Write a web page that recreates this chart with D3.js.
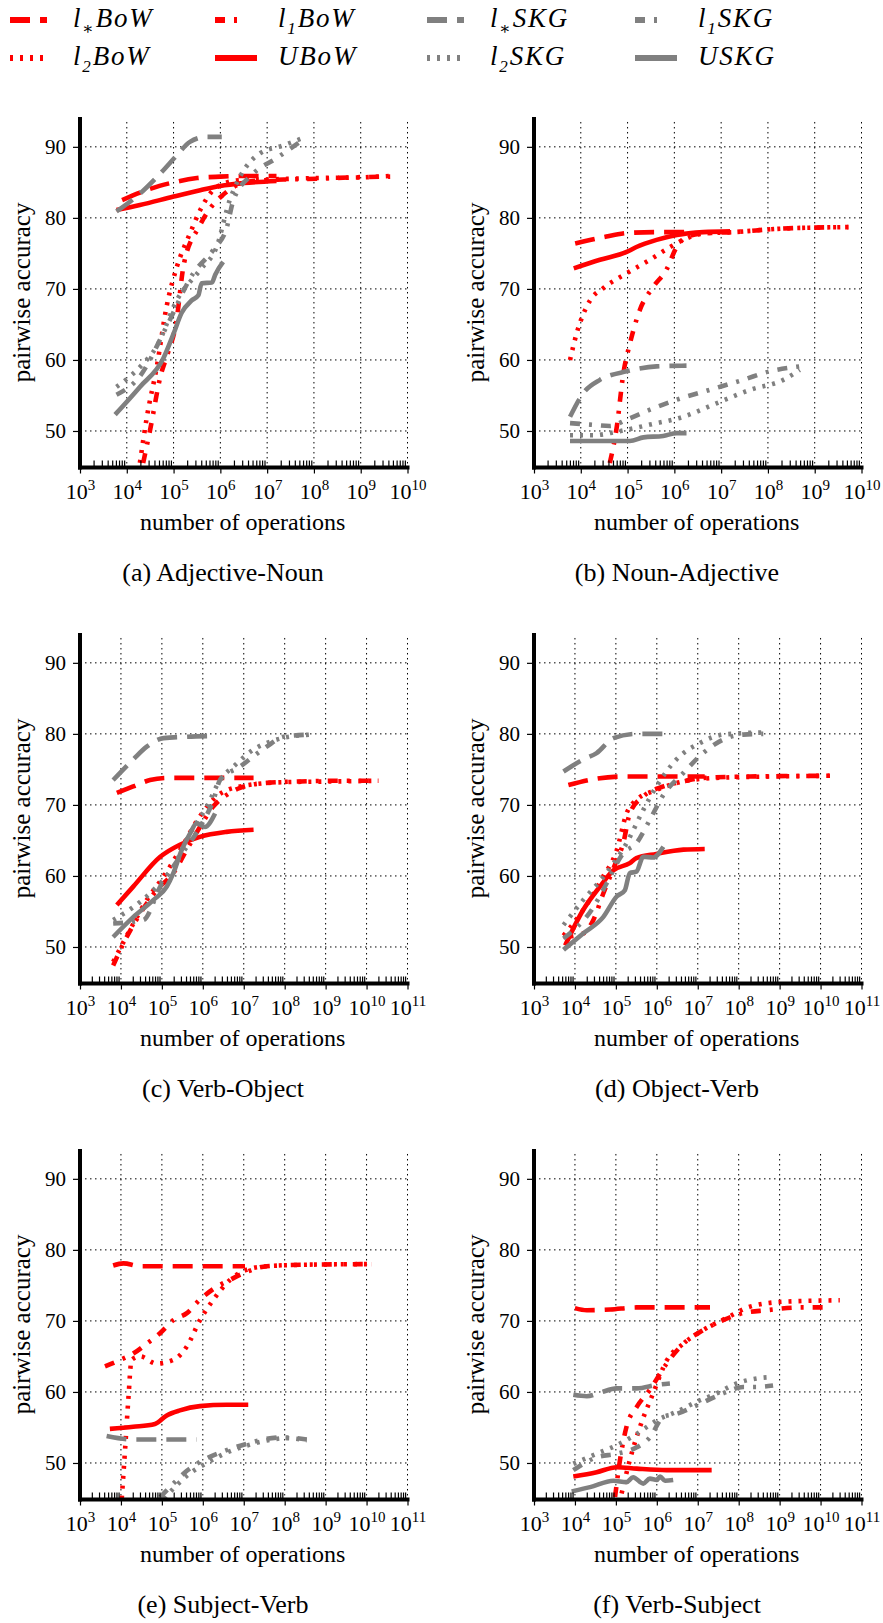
<!DOCTYPE html>
<html>
<head>
<meta charset="utf-8">
<script src="https://cdn.jsdelivr.net/npm/d3@7"></script>
<style>
  body { margin: 0; background: #fff; }
  svg text { font-family: "Liberation Serif", "DejaVu Serif", serif; fill: #000; }
</style>
</head>
<body>
<div id="chart"></div>
<script>
// x values are log10(number of operations), y values are pairwise accuracy

// (a) Adjective-Noun
var anLsBow = [[3.9,82.5],[4.3,83.6],[4.7,84.5],[5.0,85.0],[5.5,85.6],[6.0,85.8],[6.5,85.9],[7.2,85.9]];
var anL2Bow = [[4.28,45.5],[4.43,52],[4.64,59],[4.85,67.5],[5.07,73.1],[5.35,77.8],[5.57,81.1],[5.78,83.4],[6.06,84.8],[6.42,85.3],[7.0,85.4],[8.0,85.6],[9.0,85.7],[9.63,85.9]];
var anL1Bow = [[4.35,45.5],[4.5,50.2],[4.72,57.7],[4.88,61],[5.05,65],[5.22,73.5],[5.55,78.8],[5.8,81.5],[6.05,83.2],[6.3,84.4],[6.7,85.2],[7.35,85.4],[8.06,85.5],[8.77,85.7],[9.63,85.8]];
var anUBow  = [[3.78,81.1],[4.28,81.8],[5.0,83.0],[5.57,83.9],[6.0,84.5],[6.5,84.9],[7.2,85.2]];
var anLsSkg = [[3.78,80.9],[4.28,83.4],[4.71,86.2],[5.07,88.8],[5.35,90.7],[5.7,91.4],[6.03,91.4]];
var anL2Skg = [[3.78,56.2],[4.28,59],[4.64,61.9],[5.07,68.4],[5.57,72.7],[5.92,75.9],[6.2,82.5],[6.42,85.8],[6.85,89.1],[7.35,90.2],[7.74,91.2]];
var anL1Skg = [[3.78,55.1],[4.28,57.7],[4.85,64.7],[5.42,72.2],[5.85,75.5],[6.14,78.7],[6.28,82.5],[6.7,86.2],[7.2,88.4],[7.7,90.7]];
var anUSkg  = [[3.75,52.3],[4.28,56.2],[4.78,60.2],[5.0,63.7],[5.17,66.6],[5.39,68.4],[5.53,69.1],[5.6,70.8],[5.82,70.9],[5.89,72],[6.06,73.8]];

// (b) Noun-Adjective
var naLsBow = [[3.88,76.4],[4.49,77.3],[5.06,77.9],[5.7,78.0],[6.37,78.0]];
var naL2Bow = [[3.77,60],[3.91,63.7],[4.2,68.4],[4.48,70.1],[4.98,72.2],[5.48,74.1],[5.91,75.9],[6.19,76.9],[6.62,77.8],[7.26,78],[8.33,78.5],[9.72,78.7]];
var naL1Bow = [[4.62,45.5],[4.77,50.6],[4.91,58.1],[5.05,62.3],[5.26,67],[5.55,70.3],[5.83,72.7],[6.05,75.9],[6.26,77.3],[6.62,77.8],[7.26,78],[8.33,78.5],[9.72,78.7]];
var naUBow  = [[3.85,72.9],[4.41,74.1],[4.98,75.2],[5.19,75.9],[5.62,76.9],[6.05,77.6],[6.62,78.0],[7.19,78.1]];
var naLsSkg = [[3.77,52],[4.05,55.3],[4.41,57.2],[4.98,58.4],[5.62,59.1],[6.26,59.2]];
var naL2Skg = [[3.77,49.4],[4.27,49.4],[4.77,49.9],[5.48,50.9],[6.19,52],[6.9,53.9],[7.62,55.8],[8.33,57.2],[8.68,58.6]];
var naL1Skg = [[3.77,51.1],[4.2,50.9],[4.62,50.7],[4.98,51.6],[5.48,53],[6.05,54.4],[6.76,55.8],[7.47,57.2],[8.04,58.4],[8.68,59.1]];
var naUSkg  = [[3.77,48.6],[4.41,48.6],[5.05,48.6],[5.34,49.1],[5.76,49.3],[6.05,49.7],[6.26,49.7]];

// (c) Verb-Object
var voLsBow = [[3.9,71.7],[4.3,72.6],[4.71,73.5],[5.12,73.8],[5.93,73.8],[7.24,73.8]];
var voL2Bow = [[3.81,47.9],[4.22,52.4],[4.63,56.6],[5.04,59.9],[5.44,63.6],[5.93,68.4],[6.34,71.2],[6.91,72.6],[7.97,73.2],[9.19,73.3],[10.29,73.4]];
var voL1Bow = [[3.81,47.4],[4.14,51.4],[4.47,54.7],[4.87,58],[5.28,60.4],[5.6,63.6],[5.93,66.9],[6.26,69.8],[6.58,71.4],[6.91,72.4],[7.56,73.1],[8.38,73.3],[9.19,73.4],[10.29,73.4]];
var voUBow  = [[3.9,55.9],[4.3,58.5],[4.96,62.7],[5.44,64.4],[5.93,65.5],[6.58,66.2],[7.24,66.5]];
var voLsSkg = [[3.81,73.5],[4.3,76.4],[4.63,78.2],[5.04,79.4],[5.6,79.6],[6.26,79.7]];
var voL2Skg = [[3.81,53.8],[4.3,55.6],[4.79,58],[5.28,61.3],[5.69,66],[6.1,69.8],[6.42,73.5],[6.75,75.4],[7.24,77.8],[7.81,79.2],[8.62,79.9]];
var voL1Skg = [[3.81,53.3],[4.55,53.8],[4.96,58.5],[5.44,62.7],[5.93,66.9],[6.26,70.7],[6.42,73.5],[6.91,75.4],[7.56,78.2],[7.97,79.6],[8.62,79.9]];
var voUSkg  = [[3.81,51.4],[4.3,54.2],[4.79,56.6],[5.12,58.5],[5.28,60.4],[5.48,63.6],[5.69,66],[5.85,67.4],[6.05,66.9],[6.3,68.8]];

// (d) Object-Verb
var ovLsBow = [[3.84,72.8],[4.53,73.7],[5.18,74],[5.83,74],[7.17,74]];
var ovL2Bow = [[3.72,51.6],[4.2,55.2],[4.69,59.9],[5.02,63.6],[5.26,68.8],[5.5,70.7],[5.99,72.1],[6.65,73.3],[7.46,73.8],[8.8,74],[10.23,74.1]];
var ovL1Bow = [[3.72,51.4],[4.2,51.9],[4.45,53.8],[4.69,57.5],[5.02,62.2],[5.18,64.6],[5.34,68.8],[5.67,71.2],[6.16,72.6],[6.65,73.3],[7.13,73.8],[8.27,74],[10.23,74.1]];
var ovUBow  = [[3.76,50.2],[4.2,55.2],[4.61,58.5],[4.94,60.8],[5.34,61.8],[5.5,62.5],[5.99,63.1],[6.65,63.7],[7.17,63.8]];
var ovLsSkg = [[3.72,74.7],[4.2,76.4],[4.53,77.3],[4.94,79.4],[5.5,80],[6.16,80]];
var ovL2Skg = [[3.72,53.1],[4.2,56.6],[4.77,60.4],[5.26,64.6],[5.67,69.3],[5.99,72.6],[6.48,76.4],[7.05,78.7],[7.62,79.9],[8.6,80.2]];
var ovL1Skg = [[3.72,51.2],[4.45,55.6],[4.77,58.9],[5.18,63.2],[5.5,64.6],[5.83,67.9],[6.16,71.4],[6.65,74.5],[7.13,77.3],[7.7,79.4],[8.11,79.9],[8.6,80]];
var ovUSkg  = [[3.72,49.6],[4.2,51.9],[4.69,54.2],[5.02,57.1],[5.22,58],[5.34,60.4],[5.5,60.6],[5.67,62.7],[5.91,62.6],[6.16,64.1]];

// (e) Subject-Verb
var svLsBow = [[3.81,77.8],[4.06,78.1],[4.47,77.7],[5.12,77.7],[5.93,77.7],[7.03,77.7]];
var svL2Bow = [[4.02,45],[4.1,51.8],[4.18,58.9],[4.26,64.5],[4.47,65],[4.87,64],[5.28,64.5],[5.61,66.4],[5.93,70.1],[6.26,73],[6.67,75.8],[7.07,77.2],[7.56,77.7],[8.5,77.9],[10.13,78]];
var svL1Bow = [[3.61,63.6],[3.98,64.5],[4.3,65.4],[4.63,66.8],[4.96,68.3],[5.28,70.1],[5.61,71.1],[5.93,73],[6.34,74.8],[6.67,75.8],[6.99,76.7],[7.56,77.7],[8.38,77.9],[10.13,78]];
var svUBow  = [[3.73,54.8],[4.3,55.1],[4.83,55.5],[5.12,56.7],[5.44,57.4],[5.93,58],[6.58,58.2],[7.11,58.2]];
var svLsSkg = [[3.65,53.8],[4.3,53.3],[5.12,53.3],[5.85,53.3]];
var svL2Skg = [[5.05,45],[5.35,46.8],[5.7,48.6],[6.1,50],[6.6,51.5],[7.1,52.5],[7.6,53.2],[8.0,53.5],[8.54,53.2]];
var svL1Skg = [[4.96,45.2],[5.28,47.1],[5.61,48.9],[6.01,50.4],[6.58,51.8],[7.07,52.7],[7.56,53.4],[7.97,53.6],[8.54,53.3]];
var svUSkg  = [];

// (f) Verb-Subject
var vsLsBow = [[4.0,71.8],[4.29,71.5],[4.86,71.6],[5.51,71.9],[6.24,71.9],[7.3,71.9]];
var vsL2Bow = [[5.14,45.7],[5.34,50.4],[5.59,55.1],[5.91,59.8],[6.24,64.4],[6.65,66.8],[7.13,68.7],[7.7,70.4],[8.27,72],[9.09,72.7],[10.47,72.9]];
var vsL1Bow = [[4.98,45.2],[5.1,50.4],[5.26,55.1],[5.51,57.9],[5.83,60.3],[6.24,64],[6.65,66.8],[7.13,68.7],[7.62,70.1],[8.11,71.1],[8.68,71.5],[9.49,71.9],[10.23,71.9]];
var vsUBow  = [[3.96,48.1],[4.53,48.7],[5.02,49.4],[5.51,49.2],[6.24,49],[7.34,49]];
var vsLsSkg = [[3.96,59.6],[4.29,59.4],[4.61,59.9],[5.02,60.5],[5.51,60.5],[6.0,61],[6.32,61.2]];
var vsL2Skg = [[3.96,49.9],[4.53,51.3],[5.02,52.5],[5.51,54.1],[6.0,56],[6.48,57.2],[6.97,58.6],[7.46,59.8],[7.95,61.2],[8.44,61.9],[8.84,62.1]];
var vsL1Skg = [[3.96,49],[4.53,50.8],[5.02,51.3],[5.51,52.2],[5.83,53.6],[6.16,56.5],[6.48,56.9],[6.97,58.1],[7.62,59.8],[8.11,60.7],[8.44,60.7],[8.84,60.9]];
var vsUSkg  = [[3.92,46],[4.37,46.6],[4.94,47.5],[5.26,47.3],[5.42,48],[5.67,47.1],[5.83,47.8],[6.0,47.6],[6.08,48.1],[6.2,47.5],[6.4,47.6]];

var captions = ["(a) Adjective-Noun", "(b) Noun-Adjective", "(c) Verb-Object",
                "(d) Object-Verb", "(e) Subject-Verb", "(f) Verb-Subject"];
var maxExp = [10, 10, 11, 11, 11, 11];
var yTicks = [50, 60, 70, 80, 90];

// series styles, in legend (column) order
var series = [
  { name: "l", sub: "∗", tail: "BoW", color: "#ff0000", dash: "20,10" },
  { name: "l", sub: "2", tail: "BoW", color: "#ff0000", dash: "3,7" },
  { name: "l", sub: "1", tail: "BoW", color: "#ff0000", dash: "10,9,3,9" },
  { name: "U", sub: "",  tail: "BoW", color: "#ff0000", dash: null },
  { name: "l", sub: "∗", tail: "SKG", color: "#808080", dash: "20,10" },
  { name: "l", sub: "2", tail: "SKG", color: "#808080", dash: "3,7" },
  { name: "l", sub: "1", tail: "SKG", color: "#808080", dash: "10,9,3,9" },
  { name: "U", sub: "",  tail: "SKG", color: "#808080", dash: null }
];

var panelData = [
  [anLsBow, anL2Bow, anL1Bow, anUBow, anLsSkg, anL2Skg, anL1Skg, anUSkg],
  [naLsBow, naL2Bow, naL1Bow, naUBow, naLsSkg, naL2Skg, naL1Skg, naUSkg],
  [voLsBow, voL2Bow, voL1Bow, voUBow, voLsSkg, voL2Skg, voL1Skg, voUSkg],
  [ovLsBow, ovL2Bow, ovL1Bow, ovUBow, ovLsSkg, ovL2Skg, ovL1Skg, ovUSkg],
  [svLsBow, svL2Bow, svL1Bow, svUBow, svLsSkg, svL2Skg, svL1Skg, svUSkg],
  [vsLsBow, vsL2Bow, vsL1Bow, vsUBow, vsLsSkg, vsL2Skg, vsL1Skg, vsUSkg]
];

var FONT = "'Liberation Serif', 'DejaVu Serif', serif";
var W = 883, H = 1623;
var svg = d3.select("#chart").append("svg")
  .attr("width", W).attr("height", H)
  .attr("font-family", FONT);

// legend: 4 columns x 2 rows, filled column by column
var legX = [10, 215, 427, 635];
var legY = [20, 58];
series.forEach(function(s, i) {
  var col = Math.floor(i / 2), row = i % 2;
  var g = svg.append("g").attr("transform", "translate(" + legX[col] + "," + legY[row] + ")");
  var len = s.dash === null ? 42 : (s.dash === "10,9,3,9" ? 22 : 37);
  g.append("line")
    .attr("x1", 0).attr("x2", len).attr("y1", 0).attr("y2", 0)
    .attr("stroke", s.color).attr("stroke-width", 6)
    .attr("stroke-dasharray", s.dash);
  var t = g.append("text")
    .attr("x", 63).attr("y", 7)
    .attr("font-family", FONT)
    .attr("font-size", 27).attr("font-style", "italic")
    .attr("letter-spacing", 1.8);
  t.append("tspan").text(s.name);
  if (s.sub) {
    t.append("tspan").attr("dy", 7).attr("font-size", 17).text(s.sub);
    t.append("tspan").attr("dy", -7).text(s.tail);
  } else {
    t.append("tspan").text(s.tail);
  }
});

var pw = 327.5, ph = 349.5;
var lefts = [80, 534];
var tops = [117, 633, 1149];

panelData.forEach(function(data, p) {
  var col = p % 2, row = Math.floor(p / 2);
  var g = svg.append("g")
    .attr("transform", "translate(" + lefts[col] + "," + tops[row] + ")");

  var x = d3.scaleLog().domain([1e3, Math.pow(10, maxExp[p])]).range([0, pw]);
  var y = d3.scaleLinear().domain([45, 94.2]).range([ph, 0]);

  var majors = d3.range(3, maxExp[p] + 1).map(function(e) { return Math.pow(10, e); });
  var minors = [];
  d3.range(3, maxExp[p]).forEach(function(e) {
    for (var k = 2; k < 10; k++) minors.push(k * Math.pow(10, e));
  });

  // grid
  g.selectAll(".vgrid").data(majors.slice(1)).enter().append("line")
    .attr("x1", function(d) { return x(d); }).attr("x2", function(d) { return x(d); })
    .attr("y1", y(93.5)).attr("y2", ph)
    .attr("stroke", "#000").attr("stroke-width", 1).attr("stroke-dasharray", "1.5,3.5");
  g.selectAll(".hgrid").data(yTicks).enter().append("line")
    .attr("x1", 0).attr("x2", pw)
    .attr("y1", function(d) { return y(d); }).attr("y2", function(d) { return y(d); })
    .attr("stroke", "#000").attr("stroke-width", 1).attr("stroke-dasharray", "1.5,3.5");

  // series lines
  var clipId = "clip" + p;
  g.append("clipPath").attr("id", clipId).append("rect")
    .attr("x", 0).attr("y", -2).attr("width", pw + 4).attr("height", ph + 2);

  var line = d3.line()
    .x(function(d) { return x(Math.pow(10, d[0])); })
    .y(function(d) { return y(d[1]); })
    .curve(d3.curveMonotoneX);

  data.forEach(function(pts, i) {
    if (!pts.length) return;
    g.append("path")
      .datum(pts)
      .attr("clip-path", "url(#" + clipId + ")")
      .attr("d", line)
      .attr("fill", "none")
      .attr("stroke", series[i].color)
      .attr("stroke-width", 4.6)
      .attr("stroke-dasharray", series[i].dash);
  });

  // minor ticks point inward
  g.selectAll(".minor").data(minors).enter().append("line")
    .attr("x1", function(d) { return x(d); }).attr("x2", function(d) { return x(d); })
    .attr("y1", ph - 6).attr("y2", ph)
    .attr("stroke", "#000").attr("stroke-width", 1.2);

  // x axis
  var xAxis = d3.axisBottom(x).tickValues(majors).tickSize(7).tickFormat("");
  var gx = g.append("g").attr("transform", "translate(0," + ph + ")").call(xAxis)
    .attr("font-family", FONT);
  gx.select(".domain").remove();
  gx.selectAll(".tick line").attr("stroke-width", 1.2);
  gx.selectAll(".tick text").remove();
  gx.selectAll(".tick").append("text")
    .attr("y", 32).attr("text-anchor", "middle")
    .attr("font-size", 22)
    .each(function(d) {
      var t = d3.select(this);
      t.append("tspan").text("10");
      t.append("tspan").attr("dy", -9).attr("font-size", 15)
        .text(Math.round(Math.log10(d)));
    });

  // y axis
  var yAxis = d3.axisLeft(y).tickValues(yTicks).tickSize(7).tickPadding(7).tickFormat(d3.format("d"));
  var gy = g.append("g").call(yAxis).attr("font-family", FONT);
  gy.select(".domain").remove();
  gy.selectAll(".tick line").attr("stroke-width", 1.2);
  gy.selectAll(".tick text").attr("font-size", 21);

  // thick axis lines
  g.append("line").attr("x1", -2).attr("x2", pw + 2).attr("y1", ph + 1).attr("y2", ph + 1)
    .attr("stroke", "#000").attr("stroke-width", 4);
  g.append("line").attr("x1", 0).attr("x2", 0).attr("y1", 0).attr("y2", ph + 3)
    .attr("stroke", "#000").attr("stroke-width", 4);

  // axis labels
  g.append("text")
    .attr("x", pw / 2 - 1).attr("y", ph + 63)
    .attr("text-anchor", "middle").attr("font-size", 24)
    .text("number of operations");
  g.append("text")
    .attr("transform", "translate(-50," + (y(69.5)) + ") rotate(-90)")
    .attr("text-anchor", "middle").attr("font-size", 25)
    .text("pairwise accuracy");

  // caption
  g.append("text")
    .attr("x", 143).attr("y", ph + 114)
    .attr("text-anchor", "middle").attr("font-size", 26)
    .text(captions[p]);
});
</script>
</body>
</html>
